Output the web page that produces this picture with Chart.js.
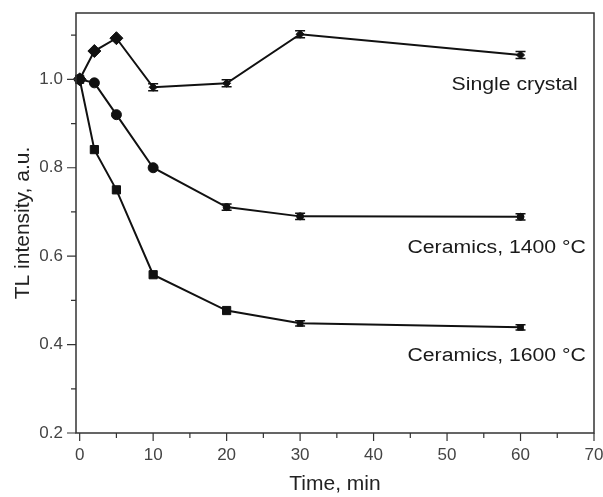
<!DOCTYPE html>
<html>
<head>
<meta charset="utf-8">
<script src="https://cdn.jsdelivr.net/npm/chart.js@4.4.0/dist/chart.umd.min.js"></script>
<style>
  html, body { margin: 0; padding: 0; background: #fff; }
  canvas { display: block; }
</style>
</head>
<body>
<canvas id="chart" width="603" height="497"></canvas>
<script>
// values
const times = [0, 2, 5, 10, 20, 30, 60];
const singleCrystal = [1.0, 1.064, 1.093, 0.982, 0.991, 1.102, 1.055];
const ceramics1400 = [1.0, 0.992, 0.92, 0.80, 0.711, 0.69, 0.689];
const ceramics1600 = [1.0, 0.841, 0.75, 0.558, 0.477, 0.448, 0.439];
const errSingle = [0, 0, 0, 0.008, 0.008, 0.008, 0.008];
const err1400 = [0, 0, 0, 0, 0.007, 0.007, 0.007];
const err1600 = [0, 0, 0, 0, 0, 0.006, 0.006];
const xTicks = [0, 10, 20, 30, 40, 50, 60, 70];
const yTicks = [0.2, 0.4, 0.6, 0.8, 1.0];
const seriesNames = ["Single crystal", "Ceramics, 1400 \u00B0C", "Ceramics, 1600 \u00B0C"];

// where the curve names sit (data units, right aligned)
const nameAnchors = [[67.8, 0.986], [68.9, 0.618], [68.9, 0.375]];

const FONT = "'Liberation Sans', Arial, sans-serif";
const INK = "#111";

const toPoints = (vals) => times.map((t, i) => ({ x: t, y: vals[i] }));

const marks = {
  id: "marks",
  afterDatasetsDraw(chart) {
    const { ctx, scales: { x, y } } = chart;
    ctx.save();
    ctx.strokeStyle = INK;
    ctx.lineWidth = 1.5;
    chart.data.datasets.forEach((ds) => {
      ds.data.forEach((p, j) => {
        const e = ds.errors[j];
        if (!e) return;
        const px = x.getPixelForValue(p.x);
        const top = y.getPixelForValue(p.y + e);
        const bot = y.getPixelForValue(p.y - e);
        ctx.beginPath();
        ctx.moveTo(px, top); ctx.lineTo(px, bot);
        ctx.moveTo(px - 5, top); ctx.lineTo(px + 5, top);
        ctx.moveTo(px - 5, bot); ctx.lineTo(px + 5, bot);
        ctx.stroke();
      });
    });
    ctx.restore();
  },
  afterDraw(chart) {
    const { ctx, chartArea: a, scales: { x, y } } = chart;
    ctx.save();
    // frame
    ctx.strokeStyle = "#333";
    ctx.lineWidth = 1.5;
    ctx.strokeRect(a.left, a.top, a.right - a.left, a.bottom - a.top);

    // ticks, major and minor, pointing out
    ctx.lineWidth = 1.2;
    ctx.beginPath();
    for (let v = 0; v <= 70; v += 5) {
      const px = x.getPixelForValue(v);
      const len = v % 10 === 0 ? 8 : 5;
      ctx.moveTo(px, a.bottom);
      ctx.lineTo(px, a.bottom + len);
    }
    for (let k = 2; k <= 11; k++) {
      const py = y.getPixelForValue(k / 10);
      const len = k % 2 === 0 ? 9 : 5;
      ctx.moveTo(a.left, py);
      ctx.lineTo(a.left - len, py);
    }
    ctx.stroke();

    // curve names (the source type is a little wide)
    ctx.fillStyle = "#1a1a1a";
    ctx.font = "18px " + FONT;
    ctx.textAlign = "right";
    ctx.textBaseline = "middle";
    seriesNames.forEach((name, i) => {
      const [dx, dy] = nameAnchors[i];
      ctx.save();
      ctx.translate(x.getPixelForValue(dx), y.getPixelForValue(dy));
      ctx.scale(1.18, 1);
      ctx.fillText(name, 0, 0);
      ctx.restore();
    });
    ctx.restore();
  },
};

const lineSet = (label, vals, errs, style, big, small) => ({
  label,
  data: toPoints(vals),
  errors: errs,
  borderColor: INK,
  borderWidth: 2,
  backgroundColor: INK,
  pointBackgroundColor: INK,
  pointBorderColor: INK,
  pointBorderWidth: 1,
  pointStyle: style,
  pointRadius: (c) => (errs[c.dataIndex] ? small : big),
  tension: 0,
  clip: false,
});

new Chart(document.getElementById("chart"), {
  type: "line",
  data: {
    datasets: [
      lineSet(seriesNames[0], singleCrystal, errSingle, "rectRot", 6.5, 4),
      lineSet(seriesNames[1], ceramics1400, err1400, "circle", 5, 3.5),
      lineSet(seriesNames[2], ceramics1600, err1600, "rect", 5.8, 4),
    ],
  },
  options: {
    responsive: false,
    animation: false,
    layout: { padding: { left: 0, right: 9, top: 13, bottom: 0 } },
    plugins: { legend: { display: false }, tooltip: { enabled: false } },
    scales: {
      x: {
        type: "linear",
        min: -0.5,
        max: 70,
        afterBuildTicks: (s) => { s.ticks = xTicks.map((v) => ({ value: v })); },
        afterFit: (s) => { s.height = 64; s.paddingLeft = 0; s.paddingRight = 0; },
        grid: { display: false, drawTicks: false },
        border: { display: false },
        ticks: { padding: 12, color: "#444", font: { family: FONT, size: 17 } },
        title: {
          display: true,
          text: "Time, min",
          color: "#222",
          font: { family: FONT, size: 21 },
          padding: { top: 0, bottom: 0 },
        },
      },
      y: {
        type: "linear",
        min: 0.2,
        max: 1.15,
        afterBuildTicks: (s) => { s.ticks = yTicks.map((v) => ({ value: v })); },
        afterFit: (s) => { s.width = 76; s.paddingTop = 0; s.paddingBottom = 0; },
        grid: { display: false, drawTicks: false },
        border: { display: false },
        ticks: {
          padding: 13,
          color: "#444",
          font: { family: FONT, size: 17 },
          callback: (v) => v.toFixed(1),
        },
        title: {
          display: true,
          text: "TL intensity, a.u.",
          color: "#222",
          font: { family: FONT, size: 21 },
          padding: { top: 11, bottom: 0 },
        },
      },
    },
  },
  plugins: [marks],
});
</script>
</body>
</html>
